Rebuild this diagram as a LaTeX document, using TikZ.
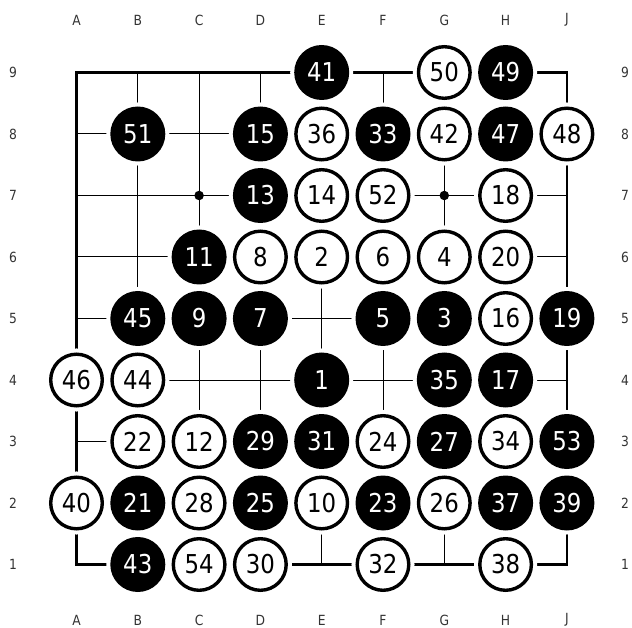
\documentclass[tikz,border=0pt]{standalone}
\usepackage{fontspec}
\setmainfont{DejaVu Sans}[FakeStretch=0.88]
\begin{document}
\begin{tikzpicture}[x=1pt,y=-1pt,
  bstone/.style={circle,inner sep=0pt,fill=black,minimum size=55pt,
    text=white,font=\fontsize{26}{26}\selectfont,
    preaction={draw=white,line width=8pt}},
  wstone/.style={circle,inner sep=0pt,fill=white,draw=black,line width=3.4pt,
    minimum size=51.6pt,text=black,font=\fontsize{26}{26}\selectfont,
    preaction={draw=white,line width=11.4pt}},
  coordlabel/.style={text=black!80,font=\fontsize{14}{14}\selectfont,inner sep=0pt},
  hoshi/.style={circle,fill=black,inner sep=0pt,minimum size=9.5pt}]
\useasboundingbox (0,0) rectangle (632,628);
% grid
\foreach \i in {1,...,7}{
  \draw[line width=1pt] ({76.5+61.3*\i},72.5) -- ({76.5+61.3*\i},564.5);
  \draw[line width=1pt] (76.5,{72.5+61.5*\i}) -- (567,{72.5+61.5*\i});
}
\draw[line width=2.4pt] (76.5,72.5) rectangle (566.9,564.5);
\node[hoshi] (h1) at ({76.5+61.3*2},{72.5+61.5*2}) {};
\node[hoshi] (h2) at ({76.5+61.3*6},{72.5+61.5*2}) {};
% coordinate labels
\foreach \l [count=\k from 0] in {A,B,C,D,E,F,G,H,J}{
  \node[coordlabel] (t\l) at ({76.5+61.3*\k},20) {\l};
  \node[coordlabel] (b\l) at ({76.5+61.3*\k},620) {\l};
}
\foreach \r in {1,...,9}{
  \node[coordlabel] (l\r) at (13,{72.5+61.5*(9-\r)}) {\r};
  \node[coordlabel] (r\r) at (625,{72.5+61.5*(9-\r)}) {\r};
}
% stones: col index / row / number
\foreach \c/\r/\n in {4/9/41,7/9/49,1/8/51,3/8/15,5/8/33,7/8/47,3/7/13,2/6/11,
  1/5/45,2/5/9,3/5/7,5/5/5,6/5/3,8/5/19,4/4/1,6/4/35,7/4/17,3/3/29,4/3/31,6/3/27,
  8/3/53,1/2/21,3/2/25,5/2/23,7/2/37,8/2/39,1/1/43}{
  \node[bstone] (s\n) at ({76.5+61.3*\c},{72.5+61.5*(9-\r)}) {\n};
}
\foreach \c/\r/\n in {6/9/50,4/8/36,6/8/42,8/8/48,4/7/14,5/7/52,7/7/18,3/6/8,
  4/6/2,5/6/6,6/6/4,7/6/20,7/5/16,0/4/46,1/4/44,1/3/22,2/3/12,5/3/24,7/3/34,
  0/2/40,2/2/28,4/2/10,6/2/26,2/1/54,3/1/30,5/1/32,7/1/38}{
  \node[wstone] (s\n) at ({76.5+61.3*\c},{72.5+61.5*(9-\r)}) {\n};
}
\end{tikzpicture}
\end{document}
